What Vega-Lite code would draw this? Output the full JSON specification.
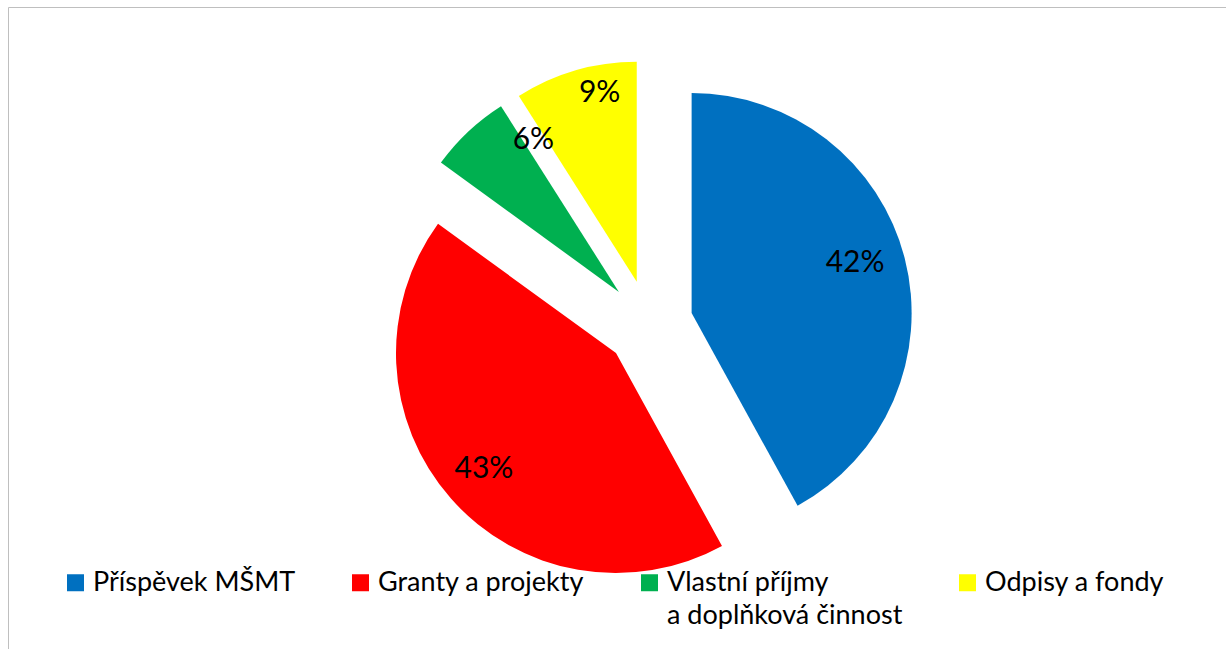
{
  "$schema": "https://vega.github.io/schema/vega-lite/v6.json",
  "width": 1218,
  "height": 642,
  "padding": {"left": 8, "top": 7, "right": 0, "bottom": 0},
  "autosize": {"type": "none"},
  "background": "white",
  "view": {"stroke": "#bfbfbf", "strokeWidth": 1},
  "config": {"font": "Lato", "style": {"guide-label": {"lineHeight": 33}}},
  "data": {
    "values": [
      {"i": 1, "kategorie": "Příspěvek MŠMT", "podil": 0.42},
      {"i": 2, "kategorie": "Granty a projekty", "podil": 0.43},
      {"i": 3, "kategorie": "Vlastní příjmy a doplňková činnost", "podil": 0.06},
      {"i": 4, "kategorie": "Odpisy a fondy", "podil": 0.09}
    ]
  },
  "encoding": {
    "theta": {"field": "podil", "type": "quantitative", "stack": true},
    "order": {"field": "i", "type": "quantitative"}
  },
  "layer": [
    {
      "mark": {
        "type": "arc",
        "outerRadius": 220,
        "strokeWidth": 0,
        "xOffset": {"expr": "32 + 44*sin(scale('theta', (datum.podil_start + datum.podil_end)/2))"},
        "yOffset": {"expr": "-4 - 44*cos(scale('theta', (datum.podil_start + datum.podil_end)/2))"}
      },
      "encoding": {
        "color": {
          "field": "kategorie",
          "type": "nominal",
          "sort": null,
          "scale": {
            "domain": ["Příspěvek MŠMT", "Granty a projekty", "Vlastní příjmy a doplňková činnost", "Odpisy a fondy"],
            "range": ["#0070C0", "#FF0000", "#00B050", "#FFFF00"]
          },
          "legend": {
            "title": null,
            "orient": "none",
            "legendX": 54,
            "legendY": 562,
            "direction": "horizontal",
            "columns": 4,
            "columnPadding": 51,
            "padding": 0,
            "symbolType": "square",
            "symbolSize": 289,
            "symbolStrokeWidth": 0,
            "labelFont": "Lato",
            "labelFontSize": 27,
            "labelColor": "black",
            "labelOffset": 4,
            "labelLimit": 400,
            "labelExpr": "datum.label == 'Vlastní příjmy a doplňková činnost' ? ['Vlastní příjmy', 'a doplňková činnost'] : [datum.label, ' ']"
          }
        }
      }
    },
    {
      "mark": {
        "type": "text",
        "radius": 176,
        "font": "Lato",
        "fontSize": 30,
        "color": "black",
        "xOffset": {"expr": "32 + 44*sin(scale('theta', (datum.podil_start + datum.podil_end)/2))"},
        "yOffset": {"expr": "-4 - 44*cos(scale('theta', (datum.podil_start + datum.podil_end)/2))"},
        "dx": {"expr": "datum.i == 1 ? -7 : datum.i == 3 ? 35 : datum.i == 4 ? 12 : 0"},
        "dy": {"expr": "datum.i == 1 ? -6 : datum.i == 3 ? -24 : datum.i == 4 ? -20 : 0"}
      },
      "encoding": {
        "detail": {"field": "kategorie", "type": "nominal"},
        "text": {"field": "podil", "type": "quantitative", "format": ".0%"}
      }
    }
  ]
}
